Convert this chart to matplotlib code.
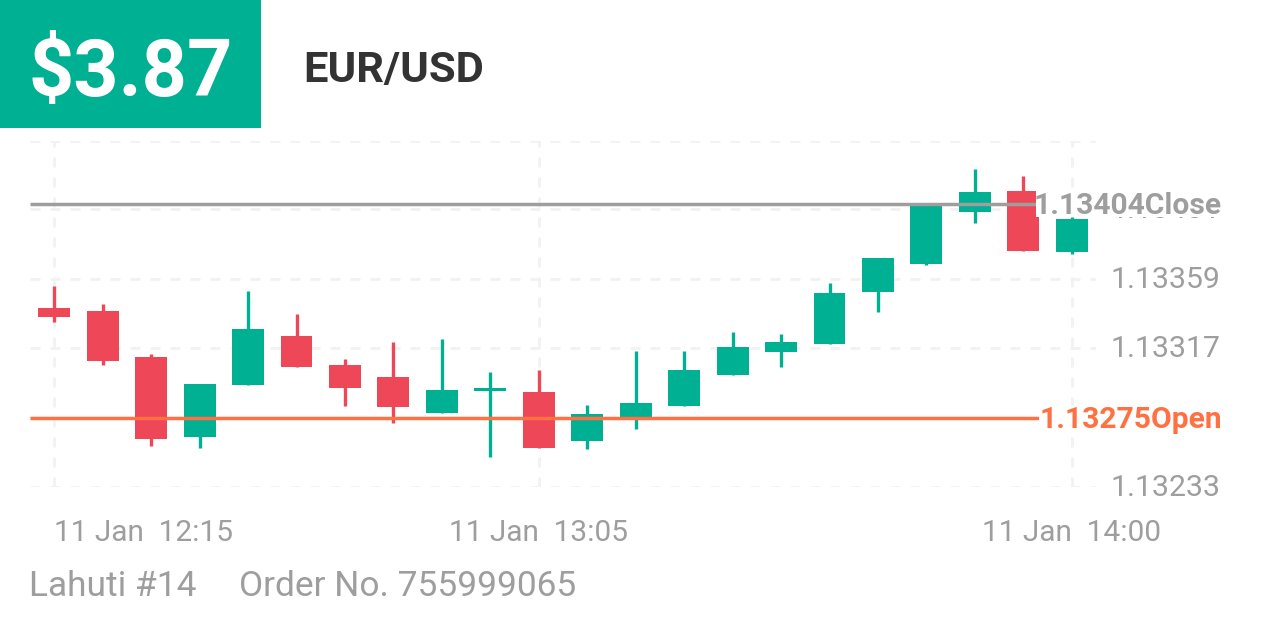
#!/usr/bin/env python3
# candlestick card for EUR/USD order

import matplotlib
matplotlib.use('Agg')
import numpy as np
import matplotlib.pyplot as plt
from matplotlib.patches import Rectangle
from matplotlib.transforms import offset_copy, Affine2D

plt.rcParams['font.family'] = ['Roboto', 'DejaVu Sans']

W, H = 1266, 633

# candles, one per 5 min
opens = [1.133415, 1.133395, 1.133117, 1.132632, 1.132950, 1.133246, 1.133067, 1.132997,
         1.132781, 1.132910, 1.132906, 1.132611, 1.132751, 1.132819, 1.133010, 1.133149,
         1.133197, 1.133507, 1.133678, 1.133995, 1.134122, 1.133748]
closes = [1.133358, 1.133091, 1.132620, 1.132956, 1.133286, 1.133059, 1.132930, 1.132812,
          1.132918, 1.132928, 1.132570, 1.132775, 1.132837, 1.133036, 1.133178, 1.133208,
          1.133505, 1.133714, 1.134030, 1.134112, 1.133756, 1.133951]
highs = [1.133547, 1.133437, 1.133137, 1.132956, 1.133515, 1.133378, 1.133107, 1.133208,
         1.133228, 1.133027, 1.133039, 1.132828, 1.133155, 1.133155, 1.133268, 1.133258,
         1.133565, 1.133714, 1.134030, 1.134253, 1.134212, 1.133961]
lows = [1.133328, 1.133069, 1.132581, 1.132568, 1.132950, 1.133059, 1.132819, 1.132719,
        1.132777, 1.132512, 1.132566, 1.132560, 1.132681, 1.132819, 1.133010, 1.133059,
        1.133197, 1.133386, 1.133674, 1.133925, 1.133756, 1.133736]

price_ticks = [1.13233, 1.13275, 1.13317, 1.13359, 1.13401, 1.13442]
price_labels = ['1.13233', '1.13275', '1.13317', '1.13359', '1.13401', '']
time_pos = [0, 10, 21]
time_labels = ['11 Jan  12:15', '11 Jan  13:05', '11 Jan  14:00']

open_price = 1.13275
close_price = 1.13404
open_label = '1.13275Open'
close_label = '1.13404Close'
profit = '$3.87'
symbol = 'EUR/USD'
account = 'Lahuti #14'
order = 'Order No. 755999065'

GREEN = '#00b092'
RED = '#ee4757'
GREY = '#9e9e9e'
ORANGE = '#ff7043'
GRID = '#f2f2f2'

fig = plt.figure(figsize=(W/100, H/100), dpi=100, facecolor='white')

# axes box in pixels: x 30..1096, y 140.7..487.3
ax = fig.add_axes([30/W, 1-487.3/H, (1096-30)/W, (487.3-140.7)/H])
ax.set_xlim(-0.5, 21.5)
ax.set_ylim(1.132333, 1.134423)
for s in ax.spines.values():
    s.set_visible(False)
ax.set_axisbelow(True)
ax.grid(True, color=GRID, lw=2.0, linestyle=(0, (3.6, 3.6)), dash_capstyle='butt')

ax.set_yticks(price_ticks)
ax.set_yticklabels(price_labels)
ax.yaxis.tick_right()
ax.tick_params(axis='y', length=0, pad=10.4, labelsize=21.8, labelcolor=GREY)
for t in ax.get_yticklabels():
    t.set_va('center_baseline')
    t.set_transform(t.get_transform() + Affine2D().translate(0, 2))
ax.set_xticks(time_pos)
ax.set_xticklabels(time_labels)
ax.tick_params(axis='x', length=0, pad=22.5, labelsize=21.5, labelcolor=GREY)
ax.get_xticklabels()[0].set_ha('left')

x = np.arange(len(opens))
colors = [GREEN if c >= o else RED for o, c in zip(opens, closes)]
ax.vlines(x, lows, highs, colors=colors, lw=2.4, zorder=2)
bottoms = np.minimum(opens, closes)
heights = np.abs(np.array(closes) - np.array(opens))
ax.bar(x, heights, width=0.66, bottom=bottoms, color=colors, zorder=3)

# price lines stop at their labels
ax.plot([-0.5, 20.26], [close_price, close_price], color=GREY, lw=2.5, zorder=4, solid_capstyle='butt')
ax.plot([-0.5, 20.35], [open_price, open_price], color=ORANGE, lw=2.5, zorder=4, solid_capstyle='butt')

# white plate behind the close label, it leaves the foot of 1.13401 showing
ax.add_patch(Rectangle((0.9437, 0.7799), 0.1762, 0.0779, transform=ax.transAxes,
                       facecolor='white', edgecolor='none', clip_on=False, zorder=5))

tr = offset_copy(ax.get_yaxis_transform(), fig=fig, y=1.0, units='dots')
ax.text(1.118, close_price, close_label, transform=tr, ha='right', va='center_baseline', fontsize=21.6,
        fontweight='bold', color=GREY, clip_on=False, zorder=6)
ax.text(1.118, open_price, open_label, transform=tr, ha='right', va='center_baseline', fontsize=21.6,
        fontweight='bold', color=ORANGE, clip_on=False, zorder=6,
        bbox=dict(facecolor='white', edgecolor='none', boxstyle='square,pad=0'))

# header and footer
fig.add_artist(Rectangle((0, 1-128/H), 261/W, 128/H, transform=fig.transFigure, color=GREEN, lw=0))
fig.text(28/W, 1-67/H, profit, color='white', fontsize=57, fontweight='bold', va='center_baseline')
fig.text(303/W, 1-66/H, symbol, color='#333333', fontsize=31.3, fontweight='bold', va='center_baseline')
fig.text(29/W, 1-583/H, account, color=GREY, fontsize=25.4, va='center_baseline')
fig.text(239/W, 1-583/H, order, color=GREY, fontsize=25.4, va='center_baseline')

fig.savefig('out.png', dpi=100)
